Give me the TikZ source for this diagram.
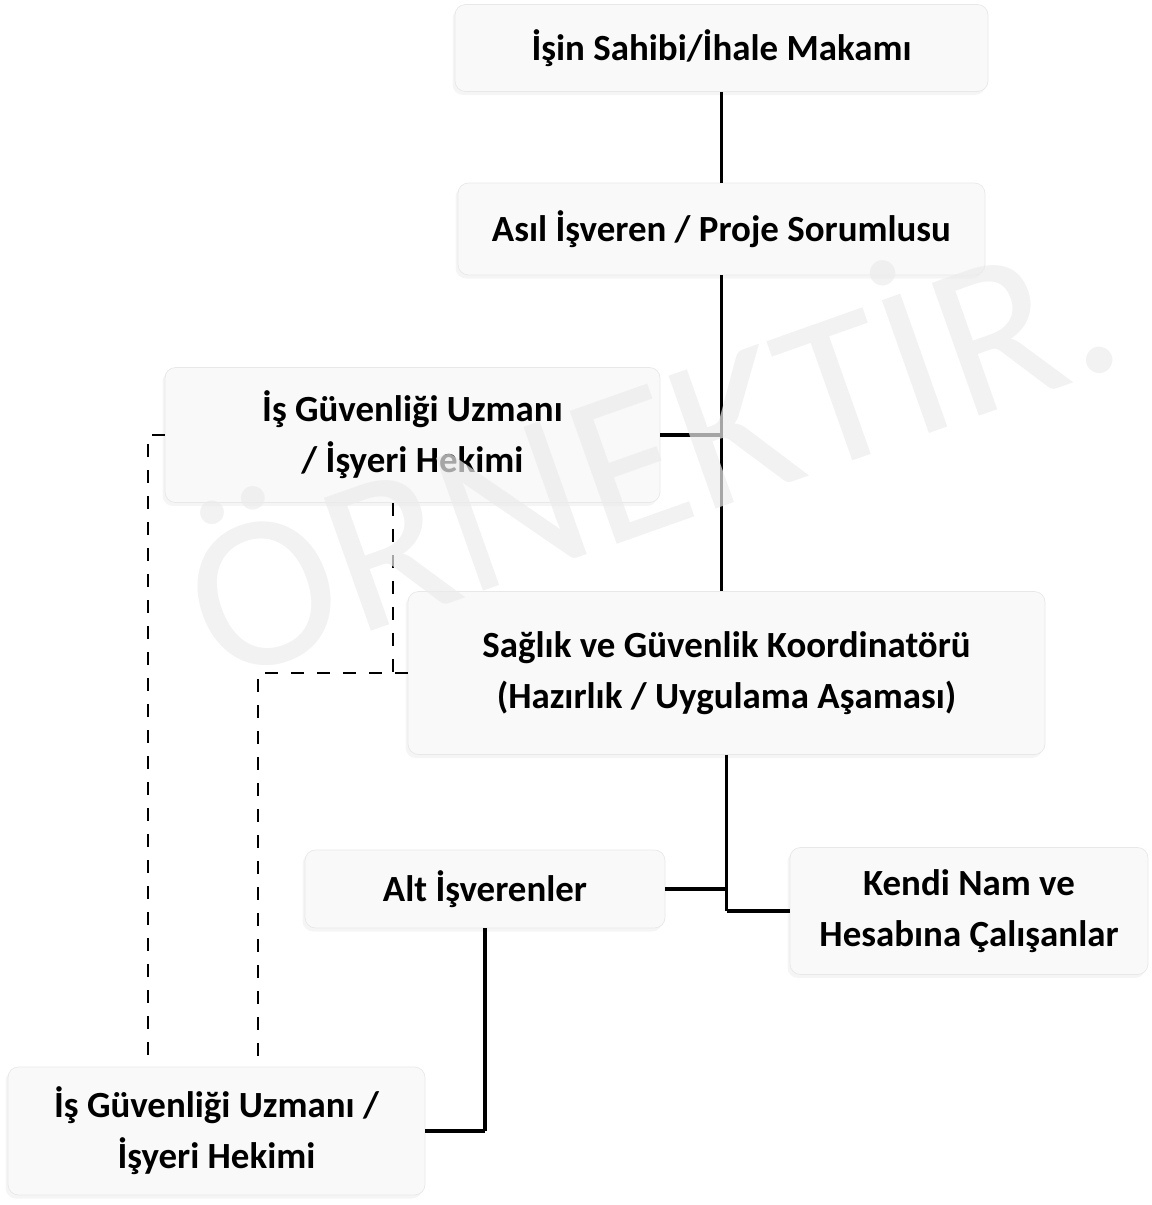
\documentclass[tikz,border=0pt]{standalone}
\usepackage{fontspec}
\setmainfont{Carlito}
\usepackage{tikz}
\usetikzlibrary{positioning, calc, shadows}
\usepackage{xcolor}
\definecolor{zemin}{RGB}{249, 249, 249}
\definecolor{kenar}{RGB}{232, 232, 232}
\definecolor{filigran}{RGB}{236, 236, 236}
\tikzset{
  kutu/.style={
    draw=kenar, fill=zemin, rounded corners=6pt, inner sep=0pt,
    align=center, font=\bfseries\fontsize{21}{29}\selectfont,
    drop shadow={opacity=0.08, shadow xshift=-0.05cm, shadow yshift=-0.07cm}
  },
  govde/.style={line width=1.8pt, black},
  kol/.style={line width=2.8pt, black},
  kesik/.style={line width=1.1pt, black, dash pattern=on 0.26cm off 0.26cm},
}

\begin{document}
\begin{tikzpicture}

\useasboundingbox (0,0) rectangle (23.04,-24.10);

% =================================================
% KUTULAR
% =================================================

\node[
    kutu,
    minimum width=10.66cm,
    minimum height=1.74cm
] (ihale) at (14.43,-0.96)
{İşin Sahibi/İhale Makamı};

\node[
    kutu,
    minimum width=10.54cm,
    minimum height=1.84cm
] (asil) at (14.43,-4.58)
{Asıl İşveren / Proje Sorumlusu};

\node[
    kutu,
    minimum width=9.90cm,
    minimum height=2.70cm
] (uzman) at (8.25,-8.70)
{İş Güvenliği Uzmanı\\ / İşyeri Hekimi};

\node[
    kutu,
    minimum width=12.74cm,
    minimum height=3.26cm
] (koord) at (14.53,-13.46)
{Sağlık ve Güvenlik Koordinatörü\\(Hazırlık / Uygulama Aşaması)};

\node[
    kutu,
    minimum width=7.20cm,
    minimum height=1.56cm
] (alt) at (9.70,-17.78)
{Alt İşverenler};

\node[
    kutu,
    minimum width=7.16cm,
    minimum height=2.54cm
] (kendi) at (19.38,-18.22)
{Kendi Nam ve\\Hesabına Çalışanlar};

\node[
    kutu,
    minimum width=8.34cm,
    minimum height=2.56cm
] (altuzman) at (4.33,-22.62)
{İş Güvenliği Uzmanı /\\İşyeri Hekimi};

% =================================================
% BAGLANTILAR
% =================================================

% Ana gövde
\draw[govde] (ihale.south) -- (asil.north);
\draw[govde] (asil.south) -- (asil.south |- koord.north);
\draw[kol] (uzman.east) -- (uzman.east -| asil.south);

\draw[govde] (koord.south) -- (koord.south |- kendi.west);
\draw[kol] (koord.south |- kendi.west) -- (kendi.west);
\draw[kol] (alt.east) -- (alt.east -| koord.south);

\draw[govde] (alt.south) -- (alt.south |- altuzman.east);
\draw[kol] (alt.south |- altuzman.east) -- (altuzman.east);

% Kesik çizgiler
\coordinate (solhat) at (2.96,0);
\coordinate (orthat) at (5.16,0);
\coordinate (inis) at (7.86,0);

\draw[kesik] (uzman.west) -- (uzman.west -| solhat) -- (solhat |- altuzman.north);
\draw[kesik] (inis |- uzman.south) -- (inis |- koord.west);
\draw[kesik] (koord.west) -- (koord.west -| orthat) -- (orthat |- altuzman.north);

% =================================================
% FILIGRAN
% =================================================

\node[
    text=filigran,
    opacity=0.7,
    rotate=19.5,
    font=\fontsize{125}{125}\selectfont
] (filigran) at (12.9,-8.8)
{ÖRNEKTİR.};

\end{tikzpicture}
\end{document}
